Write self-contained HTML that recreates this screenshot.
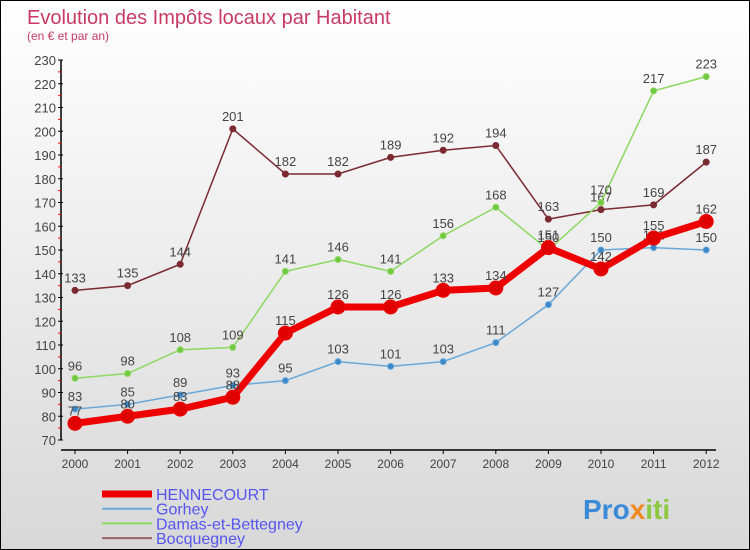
<!DOCTYPE html>
<html><head><meta charset="utf-8"><style>
body{margin:0}
#c{width:748px;height:548px;border:1px solid #000;background:linear-gradient(#fff,#d8d8d8);position:relative;font-family:"Liberation Sans",sans-serif;overflow:hidden}
</style></head><body>
<div id="c">
<svg id="s" width="748" height="548"></svg>
</div>
<script>
const years=[2000,2001,2002,2003,2004,2005,2006,2007,2008,2009,2010,2011,2012];
const hennecourt=[77,80,83,88,115,126,126,133,134,151,142,155,162];
const gorhey=[83,85,89,93,95,103,101,103,111,127,150,151,150];
const damas=[96,98,108,109,141,146,141,156,168,150,170,217,223];
const bocq=[133,135,144,201,182,182,189,192,194,163,167,169,187];
const yTicks=[70,80,90,100,110,120,130,140,150,160,170,180,190,200,210,220,230];
const NS="http://www.w3.org/2000/svg";
const s=document.getElementById('s');
const X=i=>74+i*52.6, Y=v=>439-(v-70)*2.375;
function el(t,a,p){const e=document.createElementNS(NS,t);for(const k in a)e.setAttribute(k,a[k]);(p||s).appendChild(e);return e;}
let t=el('text',{x:26,y:23,'font-size':20,fill:'#c83a64'});t.textContent='Evolution des Impôts locaux par Habitant';

t=el('text',{x:26,y:39,'font-size':12,fill:'#c83a64'});t.textContent='(en € et par an)';

let ax=el('g',{});
el('line',{x1:60,y1:Y(230),x2:60,y2:Y(70),stroke:'#000','stroke-width':1.5},ax);
yTicks.forEach(v=>{el('line',{x1:57,x2:62,y1:Y(v),y2:Y(v),stroke:'#000'},ax);
 if(v<230)el('line',{x1:57,x2:60,y1:Y(v+5),y2:Y(v+5),stroke:'red'},ax);
 const l=el('text',{x:55,y:Y(v)+5,'font-size':13,fill:'#444','text-anchor':'end'},ax);l.textContent=v;});
let xa=el('g',{});
el('line',{x1:60,y1:449,x2:715,y2:449,stroke:'#000','stroke-width':1.5},xa);
years.forEach((y,i)=>{el('line',{x1:X(i),x2:X(i),y1:449,y2:453,stroke:'#000'},xa);
 const l=el('text',{x:X(i),y:467,'font-size':12,fill:'#444','text-anchor':'middle'},xa);l.textContent=y;});
function series(d,color,w,r,name,pc){const g=el('g',{});
 el('polyline',{points:d.map((v,i)=>X(i)+','+Y(v)).join(' '),fill:'none',stroke:color,'stroke-width':w},g);
 d.forEach((v,i)=>{el('circle',{cx:X(i),cy:Y(v),r:r,fill:pc,stroke:color},g);
  const l=el('text',{x:X(i),y:Y(v)-8,'font-size':13,fill:'#444','text-anchor':'middle'},g);l.textContent=v;});}
series(bocq,'#7a2a30',1.5,3,'series-bocquegney','#7a2a30');
series(damas,'#8cd860',1.5,3,'series-damas','#70c840');
series(gorhey,'#6aa8d8',1.5,3,'series-gorhey','#3a88c8');
series(hennecourt,'#ee0000',7,7,'series-hennecourt','#e00000');
const leg=[['HENNECOURT','#ee0000',7],['Gorhey','#6aa8d8',2],['Damas-et-Bettegney','#8cd860',2],['Bocquegney','#9a6060',2]];
leg.forEach((e,i)=>{const g=el('g',{});
 const y=493+i*14.7;el('line',{x1:101,x2:151,y1:y,y2:y,stroke:e[1],'stroke-width':e[2]},g);
 const l=el('text',{x:155,y:y+6,'font-size':16,fill:'#5555ee'},g);l.textContent=e[0];});
const lg=el('text',{x:582,y:518,'font-size':28,'font-weight':'bold',fill:'#3a8ad8'});

[['Pro','#3a8ad8'],['x','#f08a20'],['iti','#8cc840']].forEach(p=>{const ts=el('tspan',{fill:p[1]},lg);ts.textContent=p[0];});
</script>
</body></html>
